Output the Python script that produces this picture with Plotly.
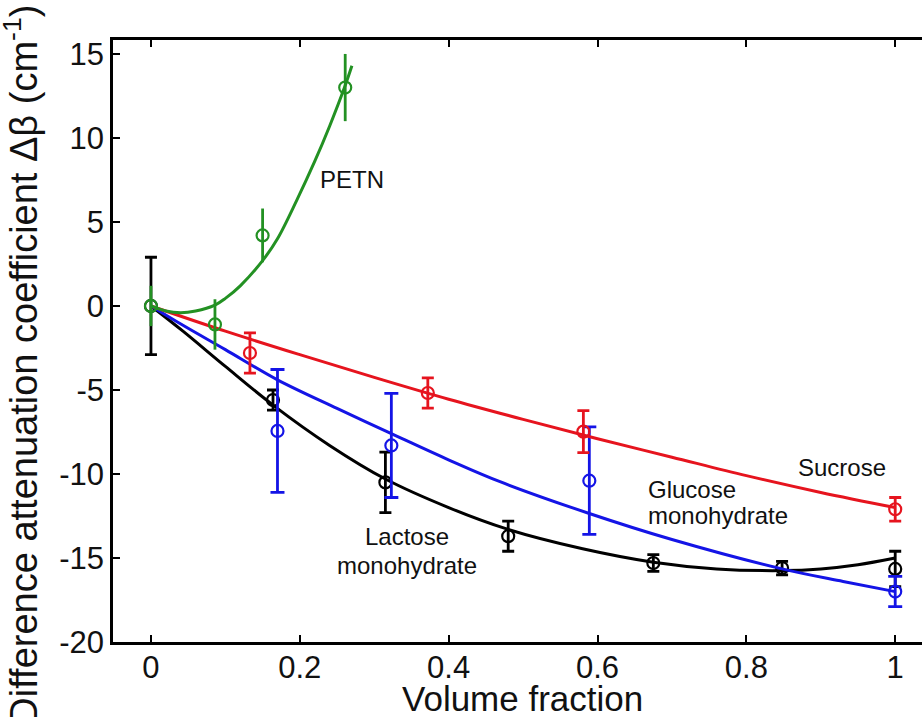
import plotly.graph_objects as go

# ---- measured data (volume fraction vs delta beta, cm^-1) ----
lactose_x = [0, 0.164, 0.315, 0.48, 0.675, 0.848, 1.0]
lactose_y = [0, -5.6, -10.5, -13.7, -15.3, -15.6, -15.65]
lactose_err = [2.9, 0.6, 1.8, 0.9, 0.5, 0.4, 1.05]

glucose_x = [0.170, 0.323, 0.589, 1.0]
glucose_y = [-7.44, -8.3, -10.4, -17.0]
glucose_err = [3.66, 3.1, 3.2, 0.9]

sucrose_x = [0.133, 0.372, 0.581, 1.0]
sucrose_y = [-2.8, -5.18, -7.48, -12.1]
sucrose_err = [1.2, 0.9, 1.25, 0.7]

petn_x = [0, 0.086, 0.150, 0.261]
petn_y = [0, -1.1, 4.2, 13.0]
petn_err = [1.2, 1.5, 1.6, 2.0]

# ---- fitted curves ----
lactose_fit_x = [0, 0.043, 0.1, 0.164, 0.24, 0.315, 0.4, 0.48, 0.58, 0.675, 0.76, 0.848, 0.9, 0.95, 1.0]
lactose_fit_y = [0, -1.5, -3.6, -5.9, -8.3, -10.3, -12.0, -13.3, -14.45, -15.25, -15.65, -15.75, -15.65, -15.4, -15.0]

glucose_fit_x = [0, 0.043, 0.1, 0.17, 0.25, 0.323, 0.402, 0.469, 0.589, 0.7, 0.848, 0.93, 1.0]
glucose_fit_y = [0, -1.15, -2.6, -4.4, -6.1, -7.6, -9.2, -10.46, -12.35, -13.9, -15.65, -16.4, -17.0]

sucrose_fit_x = [0, 0.1, 0.2, 0.3, 0.4, 0.5, 0.6, 0.7, 0.8, 0.9, 1.0]
sucrose_fit_y = [0, -1.5, -2.9, -4.25, -5.55, -6.75, -7.9, -9.0, -10.1, -11.1, -12.0]

petn_fit_x = [0, 0.02, 0.04, 0.06, 0.086, 0.10, 0.12, 0.15, 0.17, 0.196, 0.22, 0.24, 0.26, 0.27]
petn_fit_y = [0, -0.3, -0.4, -0.3, 0.05, 0.45, 1.2, 2.7, 4.0, 6.3, 8.6, 10.7, 13.0, 14.3]

x_ticks = [0, 0.2, 0.4, 0.6, 0.8, 1]
x_tick_text = ["0", "0.2", "0.4", "0.6", "0.8", "1"]
y_ticks = [-20, -15, -10, -5, 0, 5, 10, 15]
y_tick_text = ["-20", "-15", "-10", "-5", "0", "5", "10", "15"]

BLACK = "#000000"
BLUE = "#1414e6"
RED = "#e6141e"
GREEN = "#239123"
FONT = "Arial, Liberation Sans, Helvetica, sans-serif"

series = [
    (lactose_x, lactose_y, lactose_err, lactose_fit_x, lactose_fit_y, BLACK, 6),
    (glucose_x, glucose_y, glucose_err, glucose_fit_x, glucose_fit_y, BLUE, 7),
    (sucrose_x, sucrose_y, sucrose_err, sucrose_fit_x, sucrose_fit_y, RED, 6),
    (petn_x, petn_y, petn_err, petn_fit_x, petn_fit_y, GREEN, 0),
]

fig = go.Figure()
for xs, ys, es, fx, fy, col, capw in series:
    fig.add_trace(go.Scatter(
        x=fx, y=fy, mode="lines", line=dict(color=col, width=3, shape="spline", smoothing=1.0),
        hoverinfo="skip", showlegend=False))
    fig.add_trace(go.Scatter(
        x=xs, y=ys, mode="markers",
        marker=dict(symbol="circle-open", size=12, color=col, line=dict(width=2.2, color=col)),
        error_y=dict(type="data", array=es, visible=True, color=col, thickness=2.8, width=capw),
        showlegend=False))

ann_font = dict(family=FONT, size=24, color="#111111")
annotations = [
    dict(x=0.27, y=7.5, text="PETN", xref="x", yref="y", showarrow=False, font=ann_font,
         xanchor="center", yanchor="middle"),
    dict(x=0.928, y=-9.6, text="Sucrose", xref="x", yref="y", showarrow=False, font=ann_font,
         xanchor="center", yanchor="middle"),
    dict(x=0.665, y=-10.95, text="Glucose", xref="x", yref="y", showarrow=False, font=ann_font,
         xanchor="left", yanchor="middle"),
    dict(x=0.665, y=-12.45, text="monohydrate", xref="x", yref="y", showarrow=False, font=ann_font,
         xanchor="left", yanchor="middle"),
    dict(x=0.344, y=-13.75, text="Lactose", xref="x", yref="y", showarrow=False, font=ann_font,
         xanchor="center", yanchor="middle"),
    dict(x=0.344, y=-15.45, text="monohydrate", xref="x", yref="y", showarrow=False, font=ann_font,
         xanchor="center", yanchor="middle"),
    dict(x=0.506, y=-0.094, text="Volume fraction", xref="paper", yref="paper", showarrow=False,
         font=dict(family=FONT, size=35, color="#111111"), xanchor="center", yanchor="middle"),
    dict(x=-0.113, y=0.46, text="Difference attenuation coefficient \u0394\u03b2 (cm<sup>-1</sup>)",
         xref="paper", yref="paper", showarrow=False, textangle=-90,
         font=dict(family=FONT, size=38, color="#111111"), xanchor="center", yanchor="middle"),
]

fig.update_layout(
    width=922, height=717,
    margin=dict(l=113, r=0, t=40, b=75, autoexpand=False),
    paper_bgcolor="white", plot_bgcolor="white",
    annotations=annotations,
    xaxis=dict(range=[-0.051, 1.036], tickvals=x_ticks, ticktext=x_tick_text, automargin=False,
               showgrid=False, zeroline=False, showline=True, linecolor="black", linewidth=2.5,
               mirror="ticks", ticks="inside", ticklen=7, tickwidth=2, tickcolor="black",
               ticklabelstandoff=-4,
               tickfont=dict(family=FONT, size=31, color="#111111")),
    yaxis=dict(range=[-20, 15.83], tickvals=y_ticks, ticktext=y_tick_text, automargin=False,
               showgrid=False, zeroline=False, showline=True, linecolor="black", linewidth=2.5,
               ticks="inside", ticklen=7, tickwidth=2, tickcolor="black",
               tickfont=dict(family=FONT, size=31, color="#111111")),
)

# remove the browser's default page margin so the figure sits at the top-left corner
fig.write_html("out.html", config={"displayModeBar": False},
               post_script="document.body.style.margin='0';document.body.style.overflow='hidden';")
